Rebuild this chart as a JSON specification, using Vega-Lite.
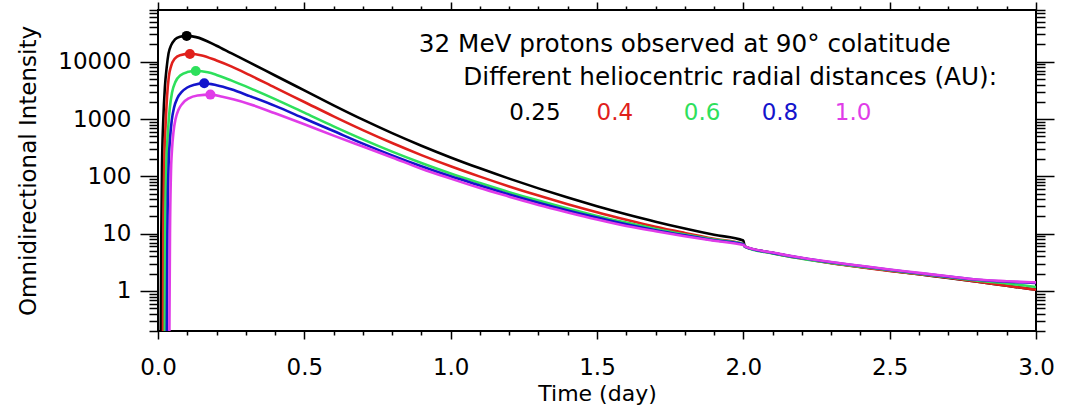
{
  "$schema": "https://vega.github.io/schema/vega-lite/v6.json",
  "width": 878,
  "height": 321,
  "autosize": {"type": "none"},
  "padding": {"left": 158, "top": 10, "right": 35, "bottom": 82},
  "background": "white",
  "config": {
    "view": {"stroke": "black", "strokeWidth": 2},
    "font": "DejaVu Sans",
    "axis": {"grid": false, "domain": false, "tickColor": "black", "tickWidth": 1.5, "labelColor": "black", "labelFont": "DejaVu Sans", "labelFontSize": 23, "titleFont": "DejaVu Sans", "titleFontWeight": "normal", "titleColor": "black", "labelFlush": false, "labelOverlap": false, "labelBound": false}
  },
  "datasets": {
    "curves": [
      {"s":"0.25","t":0.009,"v":0.1},{"s":"0.25","t":0.0113,"v":10},{"s":"0.25","t":0.0137,"v":145},{"s":"0.25","t":0.018,"v":950},{"s":"0.25","t":0.0236,"v":3630},{"s":"0.25","t":0.0297,"v":8000},{"s":"0.25","t":0.036,"v":14000},{"s":"0.25","t":0.045,"v":19500},{"s":"0.25","t":0.058,"v":24500},{"s":"0.25","t":0.075,"v":27300},{"s":"0.25","t":0.098,"v":28250},{"s":"0.25","t":0.13,"v":26900},{"s":"0.25","t":0.2,"v":19050},{"s":"0.25","t":0.25,"v":14100},{"s":"0.25","t":0.314,"v":9680},{"s":"0.25","t":0.4,"v":5750},{"s":"0.25","t":0.5,"v":3160},{"s":"0.25","t":0.6,"v":1738},{"s":"0.25","t":0.7,"v":977},{"s":"0.25","t":0.8,"v":569},{"s":"0.25","t":0.9,"v":343},{"s":"0.25","t":1.0,"v":214},{"s":"0.25","t":1.1,"v":138},{"s":"0.25","t":1.2,"v":91.2},{"s":"0.25","t":1.3,"v":61.7},{"s":"0.25","t":1.4,"v":42.7},{"s":"0.25","t":1.5,"v":30.2},{"s":"0.25","t":1.6,"v":21.9},{"s":"0.25","t":1.7,"v":16.2},{"s":"0.25","t":1.8,"v":12.3},{"s":"0.25","t":1.9,"v":9.55},{"s":"0.25","t":2.0,"v":7.59},{"s":"0.25","t":2.005,"v":6.0},{"s":"0.25","t":2.1,"v":4.62},{"s":"0.25","t":2.2,"v":3.72},{"s":"0.25","t":2.3,"v":3.09},{"s":"0.25","t":2.4,"v":2.63},{"s":"0.25","t":2.5,"v":2.26},{"s":"0.25","t":2.6,"v":1.95},{"s":"0.25","t":2.7,"v":1.69},{"s":"0.25","t":2.8,"v":1.45},{"s":"0.25","t":2.9,"v":1.23},{"s":"0.25","t":3.0,"v":1.05},
      {"s":"0.4","t":0.017,"v":0.1},{"s":"0.4","t":0.0184,"v":10},{"s":"0.4","t":0.0212,"v":145},{"s":"0.4","t":0.026,"v":800},{"s":"0.4","t":0.031,"v":2500},{"s":"0.4","t":0.037,"v":5500},{"s":"0.4","t":0.045,"v":8500},{"s":"0.4","t":0.057,"v":11300},{"s":"0.4","t":0.075,"v":13000},{"s":"0.4","t":0.109,"v":13700},{"s":"0.4","t":0.15,"v":12900},{"s":"0.4","t":0.2,"v":10500},{"s":"0.4","t":0.25,"v":8320},{"s":"0.4","t":0.314,"v":5830},{"s":"0.4","t":0.4,"v":3530},{"s":"0.4","t":0.5,"v":1986},{"s":"0.4","t":0.6,"v":1114},{"s":"0.4","t":0.7,"v":641},{"s":"0.4","t":0.8,"v":381},{"s":"0.4","t":0.9,"v":235},{"s":"0.4","t":1.0,"v":150},{"s":"0.4","t":1.1,"v":98.9},{"s":"0.4","t":1.2,"v":66.7},{"s":"0.4","t":1.3,"v":46.1},{"s":"0.4","t":1.4,"v":32.6},{"s":"0.4","t":1.5,"v":23.6},{"s":"0.4","t":1.6,"v":17.5},{"s":"0.4","t":1.7,"v":13.2},{"s":"0.4","t":1.8,"v":10.3},{"s":"0.4","t":1.9,"v":8.15},{"s":"0.4","t":2.0,"v":6.61},{"s":"0.4","t":2.005,"v":5.95},{"s":"0.4","t":2.1,"v":4.57},{"s":"0.4","t":2.2,"v":3.67},{"s":"0.4","t":2.3,"v":3.05},{"s":"0.4","t":2.4,"v":2.6},{"s":"0.4","t":2.5,"v":2.24},{"s":"0.4","t":2.6,"v":1.95},{"s":"0.4","t":2.7,"v":1.7},{"s":"0.4","t":2.8,"v":1.45},{"s":"0.4","t":2.9,"v":1.23},{"s":"0.4","t":3.0,"v":1.05},
      {"s":"0.6","t":0.023,"v":0.1},{"s":"0.6","t":0.0246,"v":10},{"s":"0.6","t":0.0284,"v":145},{"s":"0.6","t":0.034,"v":600},{"s":"0.6","t":0.04,"v":1500},{"s":"0.6","t":0.048,"v":2900},{"s":"0.6","t":0.06,"v":4500},{"s":"0.6","t":0.077,"v":5800},{"s":"0.6","t":0.1,"v":6600},{"s":"0.6","t":0.129,"v":6900},{"s":"0.6","t":0.17,"v":6530},{"s":"0.6","t":0.2,"v":5890},{"s":"0.6","t":0.25,"v":4730},{"s":"0.6","t":0.314,"v":3470},{"s":"0.6","t":0.4,"v":2230},{"s":"0.6","t":0.5,"v":1291},{"s":"0.6","t":0.6,"v":746},{"s":"0.6","t":0.7,"v":442},{"s":"0.6","t":0.8,"v":270},{"s":"0.6","t":0.9,"v":171},{"s":"0.6","t":1.0,"v":112},{"s":"0.6","t":1.1,"v":76.4},{"s":"0.6","t":1.2,"v":53},{"s":"0.6","t":1.3,"v":37.7},{"s":"0.6","t":1.4,"v":27.4},{"s":"0.6","t":1.5,"v":20.4},{"s":"0.6","t":1.6,"v":15.6},{"s":"0.6","t":1.7,"v":12.1},{"s":"0.6","t":1.8,"v":9.68},{"s":"0.6","t":1.9,"v":7.91},{"s":"0.6","t":2.0,"v":6.61},{"s":"0.6","t":2.005,"v":5.9},{"s":"0.6","t":2.1,"v":4.52},{"s":"0.6","t":2.2,"v":3.67},{"s":"0.6","t":2.3,"v":3.09},{"s":"0.6","t":2.4,"v":2.66},{"s":"0.6","t":2.5,"v":2.29},{"s":"0.6","t":2.6,"v":2.0},{"s":"0.6","t":2.7,"v":1.74},{"s":"0.6","t":2.8,"v":1.51},{"s":"0.6","t":2.9,"v":1.35},{"s":"0.6","t":3.0,"v":1.17},
      {"s":"0.8","t":0.03,"v":0.1},{"s":"0.8","t":0.032,"v":10},{"s":"0.8","t":0.036,"v":145},{"s":"0.8","t":0.041,"v":450},{"s":"0.8","t":0.047,"v":950},{"s":"0.8","t":0.055,"v":1600},{"s":"0.8","t":0.066,"v":2300},{"s":"0.8","t":0.082,"v":3000},{"s":"0.8","t":0.1,"v":3550},{"s":"0.8","t":0.125,"v":3980},{"s":"0.8","t":0.158,"v":4200},{"s":"0.8","t":0.2,"v":3890},{"s":"0.8","t":0.25,"v":3310},{"s":"0.8","t":0.314,"v":2510},{"s":"0.8","t":0.4,"v":1700},{"s":"0.8","t":0.5,"v":1023},{"s":"0.8","t":0.6,"v":617},{"s":"0.8","t":0.7,"v":372},{"s":"0.8","t":0.8,"v":232},{"s":"0.8","t":0.9,"v":150},{"s":"0.8","t":1.0,"v":100},{"s":"0.8","t":1.1,"v":69.2},{"s":"0.8","t":1.2,"v":48.4},{"s":"0.8","t":1.3,"v":34.7},{"s":"0.8","t":1.4,"v":25.4},{"s":"0.8","t":1.5,"v":19.1},{"s":"0.8","t":1.6,"v":14.6},{"s":"0.8","t":1.7,"v":11.5},{"s":"0.8","t":1.8,"v":9.33},{"s":"0.8","t":1.9,"v":7.67},{"s":"0.8","t":2.0,"v":6.53},{"s":"0.8","t":2.005,"v":5.95},{"s":"0.8","t":2.1,"v":4.62},{"s":"0.8","t":2.2,"v":3.76},{"s":"0.8","t":2.3,"v":3.16},{"s":"0.8","t":2.4,"v":2.72},{"s":"0.8","t":2.5,"v":2.34},{"s":"0.8","t":2.6,"v":2.04},{"s":"0.8","t":2.7,"v":1.78},{"s":"0.8","t":2.8,"v":1.57},{"s":"0.8","t":2.9,"v":1.45},{"s":"0.8","t":3.0,"v":1.38},
      {"s":"1.0","t":0.0386,"v":0.1},{"s":"1.0","t":0.041,"v":10},{"s":"1.0","t":0.044,"v":100},{"s":"1.0","t":0.048,"v":300},{"s":"1.0","t":0.053,"v":600},{"s":"1.0","t":0.06,"v":1000},{"s":"1.0","t":0.07,"v":1450},{"s":"1.0","t":0.085,"v":1900},{"s":"1.0","t":0.105,"v":2300},{"s":"1.0","t":0.135,"v":2580},{"s":"1.0","t":0.179,"v":2670},{"s":"1.0","t":0.22,"v":2450},{"s":"1.0","t":0.26,"v":2190},{"s":"1.0","t":0.314,"v":1820},{"s":"1.0","t":0.4,"v":1259},{"s":"1.0","t":0.5,"v":813},{"s":"1.0","t":0.6,"v":513},{"s":"1.0","t":0.7,"v":331},{"s":"1.0","t":0.8,"v":214},{"s":"1.0","t":0.9,"v":136},{"s":"1.0","t":1.0,"v":91.2},{"s":"1.0","t":1.1,"v":62.4},{"s":"1.0","t":1.2,"v":44.2},{"s":"1.0","t":1.3,"v":31.6},{"s":"1.0","t":1.4,"v":23.4},{"s":"1.0","t":1.5,"v":17.6},{"s":"1.0","t":1.6,"v":13.6},{"s":"1.0","t":1.7,"v":11.0},{"s":"1.0","t":1.8,"v":9.02},{"s":"1.0","t":1.9,"v":7.5},{"s":"1.0","t":2.0,"v":6.31},{"s":"1.0","t":2.005,"v":6.0},{"s":"1.0","t":2.1,"v":4.68},{"s":"1.0","t":2.2,"v":3.8},{"s":"1.0","t":2.3,"v":3.2},{"s":"1.0","t":2.4,"v":2.75},{"s":"1.0","t":2.5,"v":2.37},{"s":"1.0","t":2.6,"v":2.07},{"s":"1.0","t":2.7,"v":1.8},{"s":"1.0","t":2.8,"v":1.58},{"s":"1.0","t":2.9,"v":1.48},{"s":"1.0","t":3.0,"v":1.41}
    ],
    "peaks": [
      {"s":"0.25","t":0.098,"v":28250},{"s":"0.4","t":0.109,"v":13700},{"s":"0.6","t":0.129,"v":6900},{"s":"0.8","t":0.158,"v":4200},{"s":"1.0","t":0.179,"v":2670}
    ],
    "titles": [
      {"t":1.8,"v":14800,"label":"32 MeV protons observed at 90° colatitude"},
      {"t":1.955,"v":3930,"label":"Different heliocentric radial distances (AU):"}
    ],
    "legend": [
      {"s":"0.25","t":1.288,"v":962},{"s":"0.4","t":1.561,"v":962},{"s":"0.6","t":1.859,"v":962},{"s":"0.8","t":2.125,"v":962},{"s":"1.0","t":2.375,"v":962}
    ]
  },
  "resolve": {"axis": {"x": "independent", "y": "independent"}},
  "layer": [
    {
      "data": {"name": "curves"},
      "mark": {"type": "line", "strokeWidth": 2.6, "clip": true, "interpolate": "monotone"},
      "encoding": {
        "x": {"field": "t", "type": "quantitative", "scale": {"domain": [0, 3], "nice": false, "zero": false},
              "axis": {"orient": "bottom", "values": [0, 0.5, 1, 1.5, 2, 2.5, 3], "format": ".1f", "tickSize": 8, "labelPadding": 17, "title": "Time (day)", "titleFontSize": 22, "titleY": 69, "titleBaseline": "alphabetic"}},
        "y": {"field": "v", "type": "quantitative", "scale": {"type": "log", "domain": [0.2, 80000], "nice": false},
              "axis": {"orient": "left", "values": [1, 10, 100, 1000, 10000], "format": "d", "tickSize": 18, "labelPadding": 9, "title": "Omnidirectional Intensity", "titleFontSize": 23, "titleX": -123, "titleY": 160.5, "titleAngle": -90, "titleBaseline": "alphabetic", "titleAlign": "center"}},
        "color": {"field": "s", "type": "nominal", "scale": {"domain": ["0.25", "0.4", "0.6", "0.8", "1.0"], "range": ["#000000", "#e0201c", "#2ee05c", "#1414cc", "#e03ce8"]}, "legend": null},
        "detail": {"field": "s"}
      }
    },
    {
      "data": {"name": "peaks"},
      "mark": {"type": "circle", "size": 100, "opacity": 1},
      "encoding": {
        "x": {"field": "t", "type": "quantitative", "scale": {"domain": [0, 3], "nice": false, "zero": false},
              "axis": {"orient": "bottom", "values": [0.1,0.2,0.3,0.4,0.6,0.7,0.8,0.9,1.1,1.2,1.3,1.4,1.6,1.7,1.8,1.9,2.1,2.2,2.3,2.4,2.6,2.7,2.8,2.9], "tickSize": 4, "labels": false, "title": null}},
        "y": {"field": "v", "type": "quantitative", "scale": {"type": "log", "domain": [0.2, 80000], "nice": false},
              "axis": {"orient": "left", "values": [0.2,0.3,0.4,0.5,0.6,0.7,0.8,0.9,2,3,4,5,6,7,8,9,20,30,40,50,60,70,80,90,200,300,400,500,600,700,800,900,2000,3000,4000,5000,6000,7000,8000,9000,20000,30000,40000,50000,60000,70000,80000], "tickSize": 9, "labels": false, "title": null}},
        "color": {"field": "s", "type": "nominal", "scale": {"domain": ["0.25", "0.4", "0.6", "0.8", "1.0"], "range": ["#000000", "#e0201c", "#2ee05c", "#1414cc", "#e03ce8"]}, "legend": null}
      }
    },
    {
      "data": {"name": "titles"},
      "mark": {"type": "text", "font": "DejaVu Sans", "fontSize": 24.7, "align": "center", "baseline": "alphabetic", "color": "black"},
      "encoding": {
        "x": {"field": "t", "type": "quantitative", "scale": {"domain": [0, 3], "nice": false, "zero": false},
              "axis": {"orient": "top", "values": [0.1,0.2,0.3,0.4,0.6,0.7,0.8,0.9,1.1,1.2,1.3,1.4,1.6,1.7,1.8,1.9,2.1,2.2,2.3,2.4,2.6,2.7,2.8,2.9], "tickSize": 4, "labels": false, "title": null}},
        "y": {"field": "v", "type": "quantitative", "scale": {"type": "log", "domain": [0.2, 80000], "nice": false},
              "axis": {"orient": "right", "values": [0.2,0.3,0.4,0.5,0.6,0.7,0.8,0.9,2,3,4,5,6,7,8,9,20,30,40,50,60,70,80,90,200,300,400,500,600,700,800,900,2000,3000,4000,5000,6000,7000,8000,9000,20000,30000,40000,50000,60000,70000,80000], "tickSize": 9, "labels": false, "title": null}},
        "text": {"field": "label"}
      }
    },
    {
      "data": {"name": "legend"},
      "mark": {"type": "text", "font": "DejaVu Sans", "fontSize": 23, "align": "center", "baseline": "alphabetic"},
      "encoding": {
        "x": {"field": "t", "type": "quantitative", "scale": {"domain": [0, 3], "nice": false, "zero": false},
              "axis": {"orient": "top", "values": [0, 0.5, 1, 1.5, 2, 2.5, 3], "tickSize": 8, "labels": false, "title": null}},
        "y": {"field": "v", "type": "quantitative", "scale": {"type": "log", "domain": [0.2, 80000], "nice": false},
              "axis": {"orient": "right", "values": [1, 10, 100, 1000, 10000], "tickSize": 18, "labels": false, "title": null}},
        "text": {"field": "s"},
        "color": {"field": "s", "type": "nominal", "scale": {"domain": ["0.25", "0.4", "0.6", "0.8", "1.0"], "range": ["#000000", "#e0201c", "#2ee05c", "#1414cc", "#e03ce8"]}, "legend": null}
      }
    }
  ]
}
